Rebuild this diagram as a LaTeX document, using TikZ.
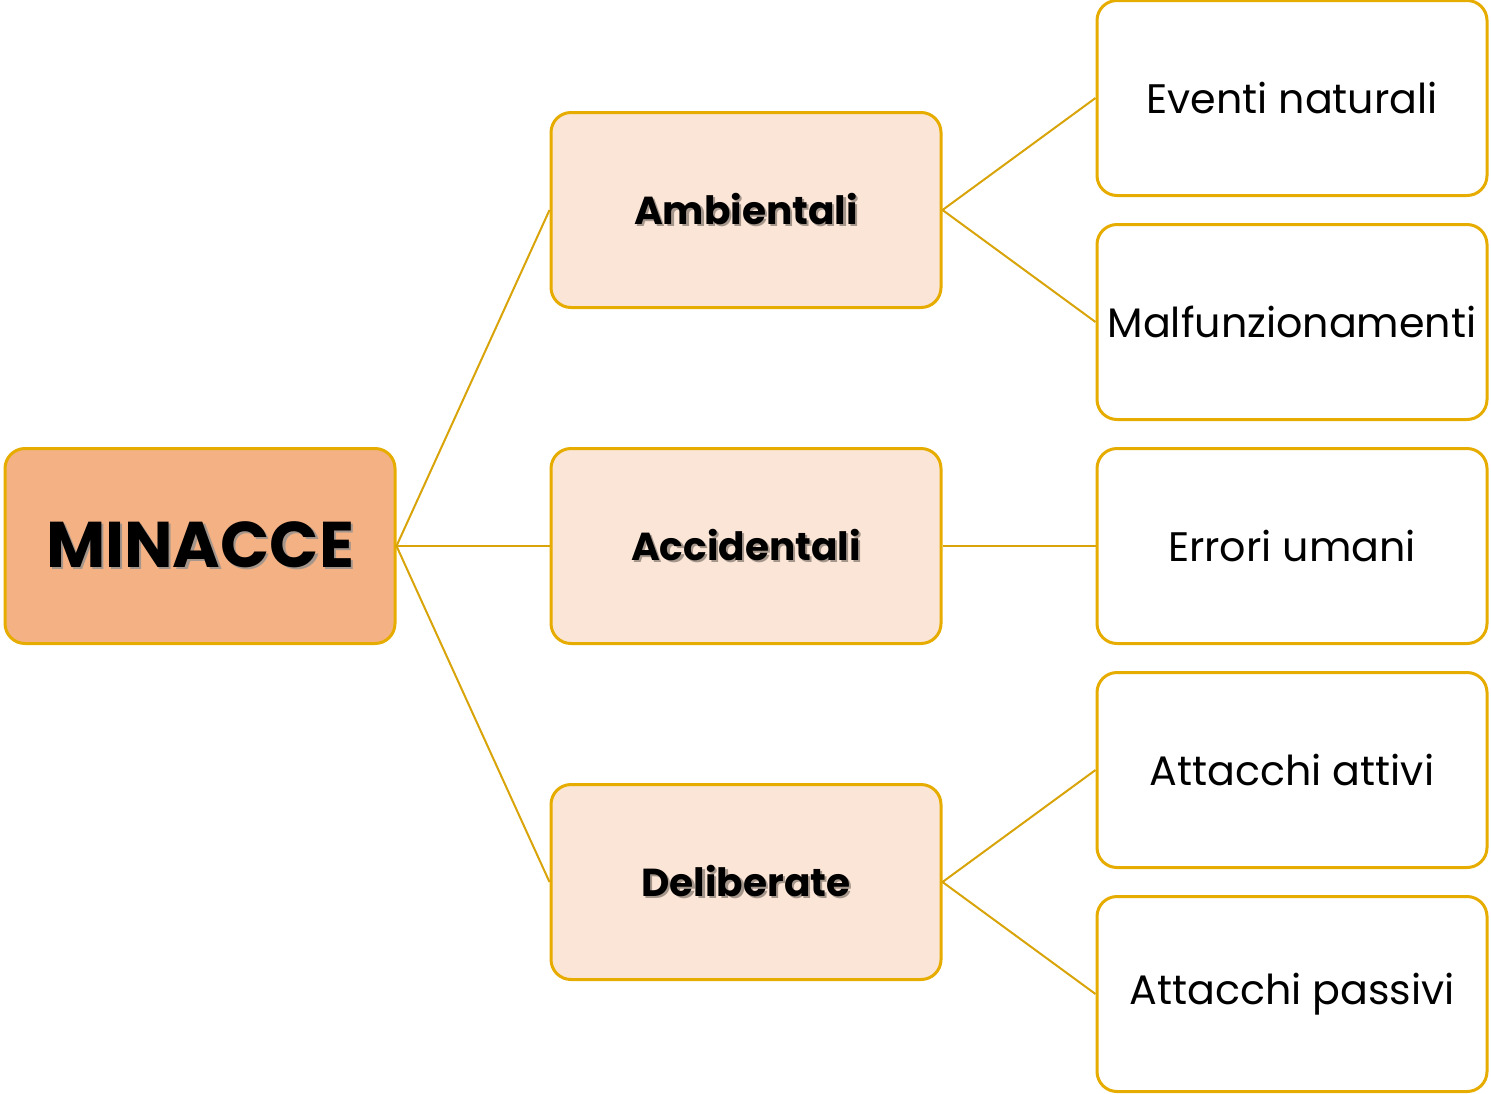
\documentclass[tikz,border=0pt]{standalone}
\usepackage{fontspec}
\setmainfont{Poppins}
\definecolor{threatGold}{RGB}{230,172,0}
\definecolor{threatLineGold}{RGB}{216,164,10}
\definecolor{threatOrange}{RGB}{244,177,131}
\definecolor{threatPeach}{RGB}{251,229,214}
\definecolor{threatShadow}{RGB}{165,150,140}

% bold label with a soft drop shadow
\newcommand{\shadowtext}[1]{%
  \makebox[0pt][l]{\hspace{1.1pt}\raisebox{-1.1pt}{\color{threatShadow}#1}}#1}

\tikzset{
  box/.style={draw=threatGold, line width=1.5pt, rounded corners=10pt,
    minimum width=195pt, minimum height=97.5pt, inner sep=0pt, align=center},
  rootbox/.style={box, fill=threatOrange, font=\fontsize{32.3}{38}\selectfont\bfseries},
  midbox/.style={box, fill=threatPeach, font=\fontsize{19.5}{24}\selectfont\bfseries},
  leafbox/.style={box, fill=white, font=\fontsize{20.6}{25}\selectfont},
  branch/.style={draw=threatLineGold, line width=1pt}
}

\begin{document}
\begin{tikzpicture}[x=0.5pt,y=-0.5pt]

  \useasboundingbox (0,0) rectangle (1491,1093);

  % root
  \node[rootbox] (minacce) at (200,546) {\shadowtext{MINACCE}};

  % middle level
  \node[midbox] (ambientali)   at (746,210) {\shadowtext{Ambientali}};
  \node[midbox] (accidentali)  at (746,546) {\shadowtext{Accidentali}};
  \node[midbox] (deliberate)   at (746,882) {\shadowtext{Deliberate}};

  % leaves
  \node[leafbox] (naturali)    at (1292,98)  {Eventi naturali};
  \node[leafbox] (malfunz)     at (1292,322) {Malfunzionamenti};
  \node[leafbox] (errori)      at (1292,546) {Errori umani};
  \node[leafbox] (attivi)      at (1292,770) {Attacchi attivi};
  \node[leafbox] (passivi)     at (1292,994) {Attacchi passivi};

  % connectors
  \foreach \child in {ambientali,accidentali,deliberate}
    \draw[branch] (minacce.east) -- (\child.west);
  \draw[branch] (ambientali.east) -- (naturali.west);
  \draw[branch] (ambientali.east) -- (malfunz.west);
  \draw[branch] (accidentali.east) -- (errori.west);
  \draw[branch] (deliberate.east) -- (attivi.west);
  \draw[branch] (deliberate.east) -- (passivi.west);

\end{tikzpicture}
\end{document}
